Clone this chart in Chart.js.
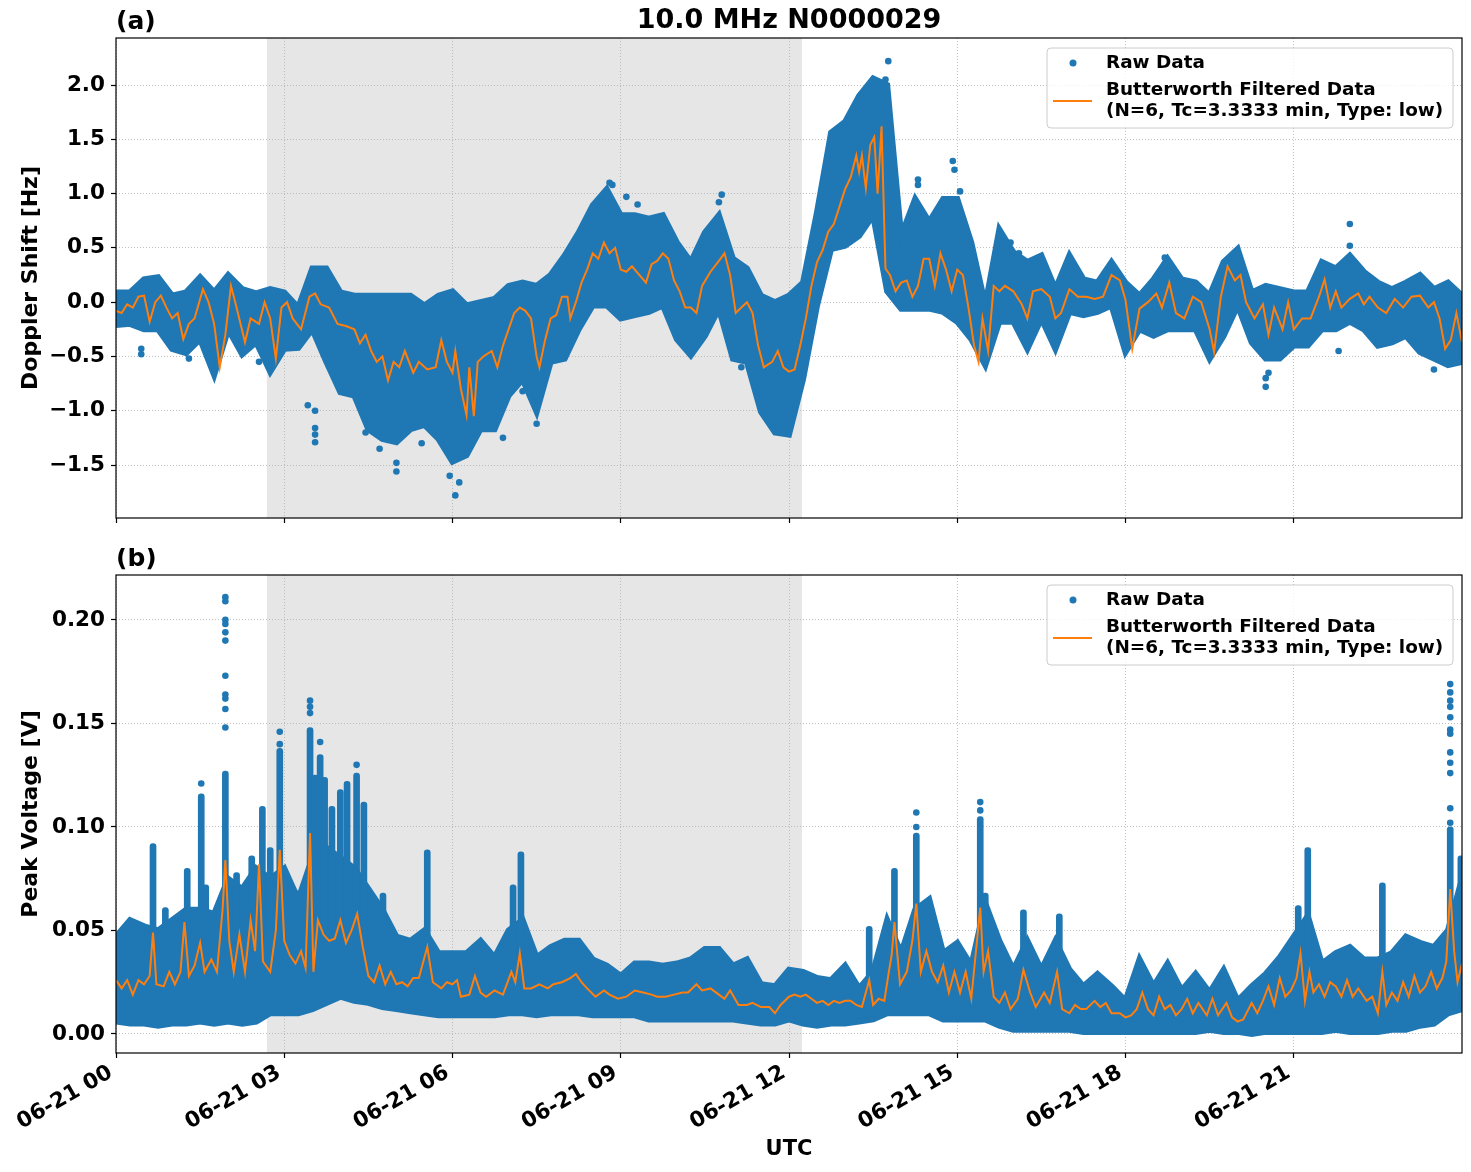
<!DOCTYPE html>
<html lang="en">
<head>
  <meta charset="UTF-8">
  <title>10.0 MHz N0000029</title>
  <style>
    * { margin: 0; padding: 0; box-sizing: border-box; }
    body { background: #fff; width: 1471px; height: 1172px; overflow: hidden; position: relative; }
    canvas { position: absolute; left: 0; }
    #dopplerPanel { top: 0; }
    #voltagePanel { top: 548px; }
  </style>
  <script src="https://cdn.jsdelivr.net/npm/chart.js"></script>
</head>
<body>
  <canvas id="dopplerPanel" width="1471" height="548"></canvas>
  <canvas id="voltagePanel" width="1471" height="624"></canvas>

  <script>
    // ---- data (hours after 06-21 00 UTC) ----
    const hourTicks = [0, 3, 6, 9, 12, 15, 18, 21];
    const shadeSpan = [2.69, 12.23];

    // raw data envelope, sampled every 15 min
    const bandHours = [0,0.25,0.5,0.75,1,1.25,1.5,1.75,2,2.25,2.5,2.75,3,3.25,3.5,3.75,4,4.25,4.5,4.75,5,5.25,5.5,5.75,
      6,6.25,6.5,6.75,7,7.25,7.5,7.75,8,8.25,8.5,8.75,9,9.25,9.5,9.75,10,10.25,10.5,10.75,11,11.25,11.5,11.75,
      12,12.25,12.5,12.75,13,13.25,13.5,13.75,14,14.25,14.5,14.75,15,15.25,15.5,15.75,16,16.25,16.5,16.75,17,17.25,17.5,17.75,
      18,18.25,18.5,18.75,19,19.25,19.5,19.75,20,20.25,20.5,20.75,21,21.25,21.5,21.75,22,22.25,22.5,22.75,23,23.25,23.5,23.75,24];

    // (a) Doppler shift [Hz]
    const dopTicks = [-1.5, -1.0, -0.5, 0.0, 0.5, 1.0, 1.5, 2.0];
    const dopUpper = [0.09,0.09,0.21,0.23, 0.06,0.09,0.23,0.09, 0.25,0.12,0.08,0.12, 0.09,-0.05,0.31,0.31,
      0.09,0.06,0.06,0.06, 0.06,0.06,-0.03,0.06, 0.10,-0.03,0.0,0.03, 0.15,0.18,0.15,0.25,
      0.43,0.64,0.89,1.04, 0.80,0.80,0.77,0.80, 0.55,0.37,0.64,0.80, 0.40,0.31,0.06,0.0,
      0.06,0.18,0.83,1.56, 1.66,1.90,2.06,2.0, 0.61,0.95,0.74,0.95, 0.95,0.55,-0.03,0.67,
      0.46,0.37,0.43,0.12, 0.43,0.21,0.18,0.37, 0.18,0.06,0.21,0.40, 0.21,0.18,0.06,0.37,
      0.49,0.09,0.15,0.12, 0.09,0.09,0.37,0.31, 0.43,0.28,0.18,0.12, 0.18,0.25,0.12,0.18, 0.06];
    const dopLower = [-0.21,-0.20,-0.25,-0.25, -0.43,-0.47,-0.34,-0.67, -0.25,-0.48,-0.37,-0.64, -0.43,-0.42,-0.25,-0.55,
      -0.83,-0.86,-1.17,-1.26, -1.29,-1.17,-1.13,-1.26, -1.47,-1.41,-1.17,-1.17, -0.86,-0.71,-1.01,-0.55,
      -0.52,-0.25,-0.03,-0.03, -0.15,-0.12,-0.09,-0.03, -0.34,-0.49,-0.31,-0.06, -0.52,-0.55,-1.01,-1.20,
      -1.22,-0.71,-0.03,0.49, 0.52,0.61,0.80,0.10, -0.06,-0.06,-0.06,-0.09, -0.18,-0.34,-0.58,-0.18,
      -0.18,-0.43,-0.15,-0.43, -0.09,-0.12,-0.09,-0.03, -0.46,-0.25,-0.31,-0.25, -0.25,-0.25,-0.52,-0.31,
      -0.03,-0.37,-0.52,-0.52, -0.40,-0.40,-0.25,-0.25, -0.18,-0.25,-0.40,-0.37, -0.31,-0.46,-0.52,-0.58, -0.55];
    const dopOutliers = [[0.45,-0.48],[0.45,-0.43],[1.3,-0.52],[2.55,-0.55],[3.42,-0.95],[3.55,-1.0],[3.55,-1.16],
      [3.55,-1.22],[3.55,-1.29],[4.15,-0.7],[4.45,-1.2],[4.7,-1.35],[5.0,-1.48],[5.0,-1.56],[5.45,-1.3],[5.95,-1.6],
      [6.05,-1.78],[6.12,-1.66],[6.9,-1.25],[7.25,-0.82],[7.5,-1.12],[8.8,1.10],[8.85,1.08],[9.1,0.97],[9.3,0.9],
      [10.75,0.92],[10.8,0.99],[11.15,-0.6],[13.77,2.22],[13.72,2.05],[14.3,1.13],[14.3,1.08],[14.92,1.30],[14.95,1.22],
      [15.05,1.02],[15.95,0.55],[16.1,0.45],[18.7,0.41],[18.7,0.35],[20.5,-0.78],[20.5,-0.70],[20.55,-0.65],
      [21.8,-0.45],[22.0,0.72],[22.0,0.52],[23.5,-0.62]];
    const dopFiltered = [[0,-0.08],[0.1,-0.10],[0.2,-0.02],[0.3,-0.05],[0.4,0.05],[0.5,0.06],[0.6,-0.18],[0.7,0.0],[0.8,0.06],[0.9,-0.05],
      [1.0,-0.15],[1.1,-0.10],[1.2,-0.34],[1.3,-0.20],[1.4,-0.15],[1.55,0.12],[1.65,0.0],[1.75,-0.20],[1.85,-0.60],[1.95,-0.30],
      [2.05,0.15],[2.15,-0.05],[2.3,-0.37],[2.4,-0.15],[2.55,-0.20],[2.65,0.0],[2.75,-0.15],[2.85,-0.52],[2.95,-0.05],
      [3.05,0.0],[3.15,-0.15],[3.3,-0.25],[3.45,0.05],[3.55,0.08],[3.65,-0.02],[3.8,-0.05],[3.95,-0.20],
      [4.1,-0.22],[4.25,-0.25],[4.35,-0.38],[4.45,-0.30],[4.55,-0.45],[4.65,-0.55],[4.75,-0.50],[4.85,-0.72],[4.95,-0.55],
      [5.05,-0.60],[5.15,-0.45],[5.3,-0.65],[5.4,-0.55],[5.55,-0.62],[5.7,-0.60],[5.8,-0.35],[5.9,-0.55],
      [6.0,-0.65],[6.05,-0.45],[6.15,-0.80],[6.25,-1.04],[6.3,-0.60],[6.38,-1.05],[6.45,-0.55],[6.55,-0.50],[6.7,-0.45],[6.8,-0.60],[6.9,-0.40],
      [7.0,-0.25],[7.1,-0.10],[7.2,-0.05],[7.3,-0.08],[7.4,-0.15],[7.5,-0.50],[7.55,-0.60],[7.65,-0.35],[7.75,-0.15],[7.85,-0.12],[7.95,0.05],
      [8.05,0.05],[8.1,-0.15],[8.2,0.0],[8.3,0.18],[8.4,0.30],[8.5,0.45],[8.6,0.40],[8.7,0.55],[8.8,0.45],[8.9,0.50],
      [9.0,0.30],[9.1,0.28],[9.2,0.33],[9.3,0.27],[9.45,0.18],[9.55,0.35],[9.65,0.38],[9.75,0.45],[9.85,0.40],[9.95,0.20],
      [10.05,0.10],[10.15,-0.05],[10.25,-0.05],[10.35,-0.10],[10.45,0.15],[10.6,0.28],[10.75,0.38],[10.85,0.45],[10.95,0.25],
      [11.05,-0.10],[11.15,-0.05],[11.25,0.0],[11.35,-0.10],[11.45,-0.40],[11.55,-0.60],[11.7,-0.55],[11.8,-0.45],[11.9,-0.60],
      [12.0,-0.64],[12.1,-0.62],[12.2,-0.40],[12.3,-0.15],[12.4,0.15],[12.5,0.37],[12.6,0.48],[12.7,0.65],[12.8,0.72],[12.9,0.88],
      [13.0,1.04],[13.1,1.15],[13.2,1.35],[13.25,1.20],[13.3,1.35],[13.37,1.05],[13.45,1.45],[13.52,1.52],[13.58,1.00],[13.65,1.62],
      [13.72,0.31],[13.8,0.25],[13.9,0.10],
      [14.0,0.18],[14.1,0.20],[14.2,0.05],[14.3,0.15],[14.4,0.40],[14.5,0.40],[14.6,0.15],[14.7,0.45],[14.8,0.30],[14.9,0.10],
      [15.0,0.30],[15.1,0.25],[15.2,-0.05],[15.3,-0.40],[15.38,-0.55],[15.45,-0.15],[15.55,-0.45],[15.65,0.15],[15.75,0.10],[15.85,0.15],
      [16.0,0.10],[16.15,-0.02],[16.25,-0.15],[16.35,0.10],[16.5,0.12],[16.65,0.05],[16.75,-0.15],[16.85,-0.10],
      [17.0,0.12],[17.15,0.05],[17.3,0.05],[17.45,0.03],[17.6,0.05],[17.75,0.25],[17.9,0.20],
      [18.0,0.02],[18.12,-0.43],[18.25,-0.06],[18.4,0.0],[18.55,0.08],[18.65,-0.05],[18.78,0.18],[18.9,-0.10],
      [19.05,-0.15],[19.2,0.05],[19.35,0.0],[19.5,-0.25],[19.58,-0.46],[19.7,0.05],[19.82,0.33],[19.95,0.20],
      [20.05,0.25],[20.15,0.0],[20.3,-0.15],[20.45,-0.02],[20.55,-0.30],[20.65,-0.05],[20.8,-0.25],[20.9,0.0],
      [21.0,-0.25],[21.15,-0.15],[21.3,-0.15],[21.45,0.05],[21.55,0.21],[21.65,-0.05],[21.75,0.10],[21.85,-0.05],
      [22.0,0.03],[22.15,0.08],[22.25,-0.02],[22.35,0.05],[22.5,-0.05],[22.65,-0.10],[22.8,0.03],[22.95,-0.05],
      [23.1,0.05],[23.25,0.06],[23.4,-0.05],[23.5,0.0],[23.6,-0.15],[23.7,-0.43],[23.8,-0.35],[23.9,-0.10],[24.0,-0.37]];

    // (b) Peak voltage [V]
    const voltTicks = [0.00, 0.05, 0.10, 0.15, 0.20];
    const voltUpper = [0.047,0.055,0.052,0.050, 0.055,0.060,0.060,0.058, 0.075,0.070,0.080,0.075, 0.080,0.065,0.085,0.090,
      0.085,0.080,0.070,0.060, 0.047,0.045,0.050,0.039, 0.039,0.039,0.045,0.037, 0.050,0.055,0.037,0.042,
      0.045,0.045,0.036,0.033, 0.028,0.034,0.034,0.033, 0.034,0.036,0.041,0.041, 0.033,0.036,0.024,0.023,
      0.031,0.030,0.027,0.026, 0.033,0.022,0.030,0.055, 0.039,0.060,0.065,0.039, 0.044,0.033,0.063,0.045,
      0.031,0.045,0.031,0.045, 0.031,0.023,0.029,0.023, 0.016,0.036,0.023,0.034, 0.021,0.029,0.020,0.031,
      0.016,0.023,0.029,0.037, 0.047,0.057,0.034,0.039, 0.042,0.036,0.036,0.039, 0.047,0.044,0.042,0.050, 0.075];
    const voltLower = [0.006,0.005,0.005,0.004, 0.005,0.005,0.006,0.005, 0.006,0.005,0.006,0.010, 0.010,0.010,0.012,0.015,
      0.018,0.016,0.015,0.013, 0.012,0.011,0.010,0.009, 0.009,0.009,0.009,0.009, 0.010,0.010,0.009,0.010,
      0.010,0.010,0.009,0.009, 0.009,0.009,0.007,0.007, 0.007,0.007,0.007,0.007, 0.007,0.006,0.005,0.005,
      0.007,0.005,0.004,0.005, 0.005,0.006,0.007,0.010, 0.010,0.010,0.010,0.007, 0.007,0.007,0.007,0.004,
      0.002,0.002,0.002,0.002, 0.002,0.001,0.001,0.001, 0.001,0.001,0.001,0.001, 0.001,0.001,0.002,0.001,
      0.001,0.000,0.001,0.001, 0.001,0.001,0.001,0.002, 0.001,0.001,0.001,0.002, 0.002,0.004,0.005,0.010, 0.012];
    // narrow bursts of raw points: [hour, from, to]
    const voltBursts = [[0.66,0.040,0.092],[0.88,0.040,0.061],[1.27,0.040,0.080],[1.52,0.045,0.116],[1.6,0.040,0.072],
      [1.95,0.050,0.127],[2.15,0.040,0.078],[2.42,0.040,0.086],[2.61,0.045,0.110],[2.75,0.045,0.090],[2.92,0.050,0.138],
      [3.18,0.040,0.070],[3.46,0.050,0.148],[3.55,0.050,0.125],[3.64,0.050,0.135],[3.72,0.050,0.124],[3.85,0.050,0.110],
      [4.0,0.050,0.118],[4.12,0.050,0.122],[4.29,0.050,0.126],[4.42,0.050,0.112],[4.76,0.040,0.068],[5.55,0.035,0.089],
      [7.08,0.035,0.072],[7.22,0.035,0.088],[13.43,0.025,0.052],[13.88,0.030,0.080],[14.27,0.035,0.097],[15.41,0.040,0.105],
      [15.5,0.035,0.068],[16.18,0.030,0.060],[16.82,0.030,0.058],[21.08,0.030,0.062],[21.25,0.035,0.090],
      [22.58,0.025,0.073],[23.79,0.040,0.100],[23.98,0.040,0.086]];
    const voltOutliers = [[1.95,0.211],[1.95,0.209],[1.95,0.200],[1.95,0.198],[1.95,0.194],[1.95,0.190],[1.95,0.173],
      [1.95,0.164],[1.95,0.162],[1.95,0.157],[1.95,0.148],[2.92,0.146],[2.92,0.140],[3.46,0.161],[3.46,0.158],[3.46,0.155],
      [3.64,0.141],[4.29,0.130],[1.52,0.121],[14.27,0.107],[14.27,0.100],[15.41,0.112],[15.41,0.108],
      [23.79,0.169],[23.79,0.165],[23.79,0.161],[23.79,0.158],[23.79,0.153],[23.79,0.147],[23.79,0.145],[23.79,0.136],
      [23.79,0.131],[23.79,0.126],[23.79,0.109],[23.79,0.102]];
    const voltFiltered = [[0,0.026],[0.1,0.022],[0.2,0.026],[0.3,0.019],[0.4,0.026],[0.5,0.024],[0.6,0.028],[0.66,0.049],[0.72,0.024],
      [0.85,0.023],[0.95,0.030],[1.05,0.024],[1.15,0.030],[1.22,0.054],[1.3,0.028],[1.4,0.033],[1.5,0.044],[1.58,0.030],
      [1.7,0.036],[1.8,0.030],[1.9,0.060],[1.95,0.084],[2.02,0.045],[2.1,0.030],[2.2,0.048],[2.3,0.030],[2.4,0.055],
      [2.48,0.040],[2.55,0.082],[2.62,0.035],[2.75,0.030],[2.85,0.050],[2.92,0.089],[3.0,0.045],[3.1,0.038],[3.2,0.034],
      [3.3,0.040],[3.38,0.032],[3.46,0.097],[3.52,0.030],[3.6,0.055],[3.7,0.048],[3.8,0.045],[3.9,0.046],[4.0,0.055],
      [4.1,0.044],[4.2,0.050],[4.3,0.058],[4.4,0.042],[4.5,0.028],[4.6,0.025],[4.7,0.033],[4.8,0.024],[4.9,0.030],
      [5.0,0.024],[5.1,0.025],[5.2,0.023],[5.3,0.027],[5.4,0.027],[5.55,0.042],[5.65,0.025],[5.8,0.022],[5.9,0.025],
      [6.0,0.024],[6.08,0.026],[6.15,0.018],[6.3,0.019],[6.4,0.028],[6.5,0.020],[6.6,0.018],[6.75,0.021],[6.9,0.019],
      [7.05,0.030],[7.12,0.025],[7.2,0.039],[7.28,0.022],[7.4,0.022],[7.55,0.024],[7.7,0.022],[7.8,0.024],[7.95,0.025],
      [8.1,0.027],[8.2,0.029],[8.3,0.025],[8.4,0.022],[8.55,0.018],[8.7,0.021],[8.8,0.019],[8.95,0.017],[9.1,0.018],
      [9.25,0.021],[9.4,0.020],[9.55,0.019],[9.65,0.018],[9.8,0.018],[9.95,0.019],[10.1,0.020],[10.2,0.020],[10.35,0.024],
      [10.45,0.021],[10.6,0.022],[10.75,0.019],[10.85,0.017],[10.95,0.021],[11.1,0.014],[11.25,0.014],[11.35,0.015],
      [11.5,0.013],[11.65,0.013],[11.75,0.010],[11.85,0.014],[12.0,0.018],[12.1,0.019],[12.2,0.018],[12.3,0.019],
      [12.4,0.017],[12.5,0.015],[12.6,0.016],[12.7,0.014],[12.8,0.016],[12.9,0.015],[13.0,0.016],[13.1,0.016],
      [13.2,0.014],[13.3,0.013],[13.43,0.026],[13.5,0.014],[13.6,0.017],[13.7,0.016],[13.78,0.030],[13.83,0.038],
      [13.88,0.054],[13.98,0.024],[14.1,0.030],[14.2,0.045],[14.27,0.063],[14.35,0.030],[14.45,0.040],[14.55,0.030],
      [14.65,0.025],[14.75,0.033],[14.85,0.020],[14.95,0.030],[15.05,0.020],[15.15,0.030],[15.25,0.017],[15.41,0.061],
      [15.47,0.030],[15.55,0.040],[15.65,0.018],[15.75,0.015],[15.85,0.020],[15.95,0.012],[16.08,0.017],[16.18,0.031],
      [16.3,0.020],[16.4,0.013],[16.55,0.020],[16.65,0.015],[16.78,0.030],[16.87,0.012],[17.0,0.010],[17.1,0.014],
      [17.2,0.012],[17.3,0.012],[17.45,0.016],[17.55,0.013],[17.65,0.015],[17.75,0.010],[17.9,0.010],[18.0,0.008],
      [18.1,0.009],[18.2,0.012],[18.3,0.020],[18.4,0.012],[18.5,0.009],[18.6,0.018],[18.7,0.012],[18.8,0.014],
      [18.9,0.009],[19.0,0.012],[19.1,0.017],[19.2,0.010],[19.3,0.015],[19.45,0.009],[19.55,0.017],[19.65,0.009],
      [19.8,0.015],[19.9,0.008],[20.0,0.006],[20.1,0.007],[20.25,0.015],[20.35,0.010],[20.45,0.016],[20.55,0.023],
      [20.65,0.014],[20.75,0.027],[20.85,0.018],[20.95,0.021],[21.05,0.027],[21.12,0.039],[21.2,0.016],[21.28,0.030],
      [21.35,0.020],[21.45,0.024],[21.55,0.018],[21.65,0.025],[21.75,0.023],[21.85,0.018],[21.95,0.026],[22.05,0.018],
      [22.15,0.022],[22.3,0.016],[22.4,0.018],[22.5,0.010],[22.58,0.030],[22.65,0.014],[22.75,0.020],[22.85,0.016],
      [22.95,0.025],[23.05,0.018],[23.15,0.028],[23.25,0.020],[23.35,0.023],[23.45,0.030],[23.55,0.022],[23.65,0.027],
      [23.72,0.035],[23.79,0.070],[23.86,0.040],[23.92,0.025],[24.0,0.034]];

    const RAW_LABEL = 'Raw Data';
    const FILT_LABEL = ['Butterworth Filtered Data', '(N=6, Tc=3.3333 min, Type: low)'];

    // ---- styling ----
    const FONT = "'DejaVu Sans', sans-serif";
    const BLUE = '#1f77b4';
    const ORANGE = '#ff7f0e';
    Chart.defaults.font.family = FONT;
    Chart.defaults.font.weight = 'bold';
    Chart.defaults.color = '#000';

    function xy(xs, ys) { return xs.map((x, i) => ({ x: x, y: ys[i] })); }
    function pairs(list) { return list.map(p => ({ x: p[0], y: p[1] })); }

    // shaded interval, frame, panel tag, title and legend box
    const panelDecor = {
      id: 'panelDecor',
      beforeDraw(chart, args, o) {
        const { ctx, chartArea: a, scales: { x } } = chart;
        const x0 = x.getPixelForValue(o.shade[0]);
        const x1 = x.getPixelForValue(o.shade[1]);
        ctx.save();
        ctx.fillStyle = '#e6e6e6';
        ctx.fillRect(x0, a.top, x1 - x0, a.bottom - a.top);
        ctx.restore();
      },
      afterDraw(chart, args, o) {
        const { ctx, chartArea: a } = chart;
        ctx.save();
        ctx.strokeStyle = '#000';
        ctx.lineWidth = 1.2;
        ctx.strokeRect(a.left, a.top, a.right - a.left, a.bottom - a.top);

        ctx.fillStyle = '#000';
        ctx.textBaseline = 'middle';
        ctx.textAlign = 'left';
        ctx.font = 'bold 25px ' + FONT;
        ctx.fillText(o.tag, a.left, a.top - 16);
        if (o.title) {
          ctx.textAlign = 'center';
          ctx.font = 'bold 27px ' + FONT;
          ctx.fillText(o.title, (a.left + a.right) / 2, a.top - 17);
        }

        // legend
        const w = 406, h = 80, r = 4;
        const lx = a.right - 9 - w, ly = a.top + 10;
        ctx.beginPath();
        ctx.moveTo(lx + r, ly);
        ctx.arcTo(lx + w, ly, lx + w, ly + h, r);
        ctx.arcTo(lx + w, ly + h, lx, ly + h, r);
        ctx.arcTo(lx, ly + h, lx, ly, r);
        ctx.arcTo(lx, ly, lx + w, ly, r);
        ctx.closePath();
        ctx.fillStyle = 'rgba(255,255,255,0.8)';
        ctx.fill();
        ctx.strokeStyle = '#cccccc';
        ctx.lineWidth = 1;
        ctx.stroke();

        ctx.fillStyle = BLUE;
        ctx.beginPath();
        ctx.arc(lx + 26, ly + 15, 3.5, 0, Math.PI * 2);
        ctx.fill();
        ctx.strokeStyle = ORANGE;
        ctx.lineWidth = 2;
        ctx.beginPath();
        ctx.moveTo(lx + 6, ly + 53);
        ctx.lineTo(lx + 45, ly + 53);
        ctx.stroke();

        ctx.fillStyle = '#000';
        ctx.font = 'bold 18.4px ' + FONT;
        ctx.textAlign = 'left';
        ctx.fillText(RAW_LABEL, lx + 59, ly + 15);
        FILT_LABEL.forEach((line, i) => ctx.fillText(line, lx + 59, ly + 42 + i * 21));
        ctx.restore();
      }
    };

    function buildPanel(canvasId, p) {
      const datasets = [
        { label: 'envelope', data: xy(bandHours, p.lower), borderColor: BLUE, borderWidth: 6,
          pointRadius: 0, fill: false, order: 3, clip: 0 },
        { label: RAW_LABEL, data: xy(bandHours, p.upper), borderColor: BLUE, backgroundColor: BLUE,
          borderWidth: 6, pointRadius: 0, fill: '-1', order: 3, clip: 0 },
        { label: RAW_LABEL, data: pairs(p.outliers), showLine: false, pointRadius: 3.3,
          pointBackgroundColor: BLUE, pointBorderWidth: 0, order: 2, clip: 0 },
        { label: FILT_LABEL.join(' '), data: pairs(p.filtered), borderColor: ORANGE, borderWidth: 2,
          pointRadius: 0, fill: false, order: 0, clip: 0 }
      ];
      if (p.bursts) {
        datasets.push({ type: 'bar', label: RAW_LABEL, data: p.bursts.map(b => ({ x: b[0], y: [b[1], b[2]] })),
          backgroundColor: BLUE, barThickness: 6, borderRadius: 3, borderSkipped: false, order: 2 });
      }

      const gridOpts = { offset: false, color: '#b0b0b0', lineWidth: 0.8, tickColor: '#000', tickLength: 5, tickWidth: 1.2 };

      return new Chart(document.getElementById(canvasId), {
        type: 'line',
        data: { datasets: datasets },
        plugins: [panelDecor],
        options: {
          responsive: false,
          animation: false,
          devicePixelRatio: 1,
          layout: { padding: { top: p.padTop, right: 9, left: 0, bottom: 0 } },
          plugins: {
            legend: { display: false },
            tooltip: { enabled: false },
            panelDecor: { shade: shadeSpan, tag: p.tag, title: p.title }
          },
          scales: {
            x: {
              type: 'linear', min: 0, max: 24, offset: false,
              afterBuildTicks: s => { s.ticks = hourTicks.map(v => ({ value: v })); },
              afterFit: s => { s.height = p.xHeight; },
              grid: gridOpts,
              border: { display: false, dash: [1, 2] },
              ticks: {
                display: p.showX, autoSkip: false, minRotation: 30, maxRotation: 30, padding: 2, labelOffset: -5,
                font: { size: 21.5, weight: 'bold' },
                callback: v => '06-21 ' + String(v).padStart(2, '0')
              },
              title: { display: p.showX, text: 'UTC', font: { size: 21, weight: 'bold' }, padding: { top: 0, bottom: 10 } }
            },
            y: {
              type: 'linear', min: p.yMin, max: p.yMax,
              afterBuildTicks: s => { s.ticks = p.yTicks.map(v => ({ value: v })); },
              afterFit: s => { s.width = 116; },
              grid: gridOpts,
              border: { display: false, dash: [1, 2] },
              ticks: { padding: 6, font: { size: 21.5, weight: 'bold' }, callback: p.fmt },
              title: { display: true, text: p.yTitle, font: { size: 22, weight: 'bold' }, padding: { top: 18, bottom: 0 } }
            }
          }
        }
      });
    }

    buildPanel('dopplerPanel', {
      tag: '(a)', title: '10.0 MHz N0000029', yTitle: 'Doppler Shift [Hz]',
      upper: dopUpper, lower: dopLower, outliers: dopOutliers, filtered: dopFiltered,
      yMin: -1.988, yMax: 2.433, yTicks: dopTicks,
      fmt: v => v.toFixed(1).replace('-', '\u2212'),
      padTop: 38, xHeight: 30, showX: false
    });

    buildPanel('voltagePanel', {
      tag: '(b)', title: '', yTitle: 'Peak Voltage [V]',
      upper: voltUpper, lower: voltLower, outliers: voltOutliers, filtered: voltFiltered, bursts: voltBursts,
      yMin: -0.0092, yMax: 0.2217, yTicks: voltTicks,
      fmt: v => v.toFixed(2),
      padTop: 27, xHeight: 119, showX: true
    });
  </script>
</body>
</html>
